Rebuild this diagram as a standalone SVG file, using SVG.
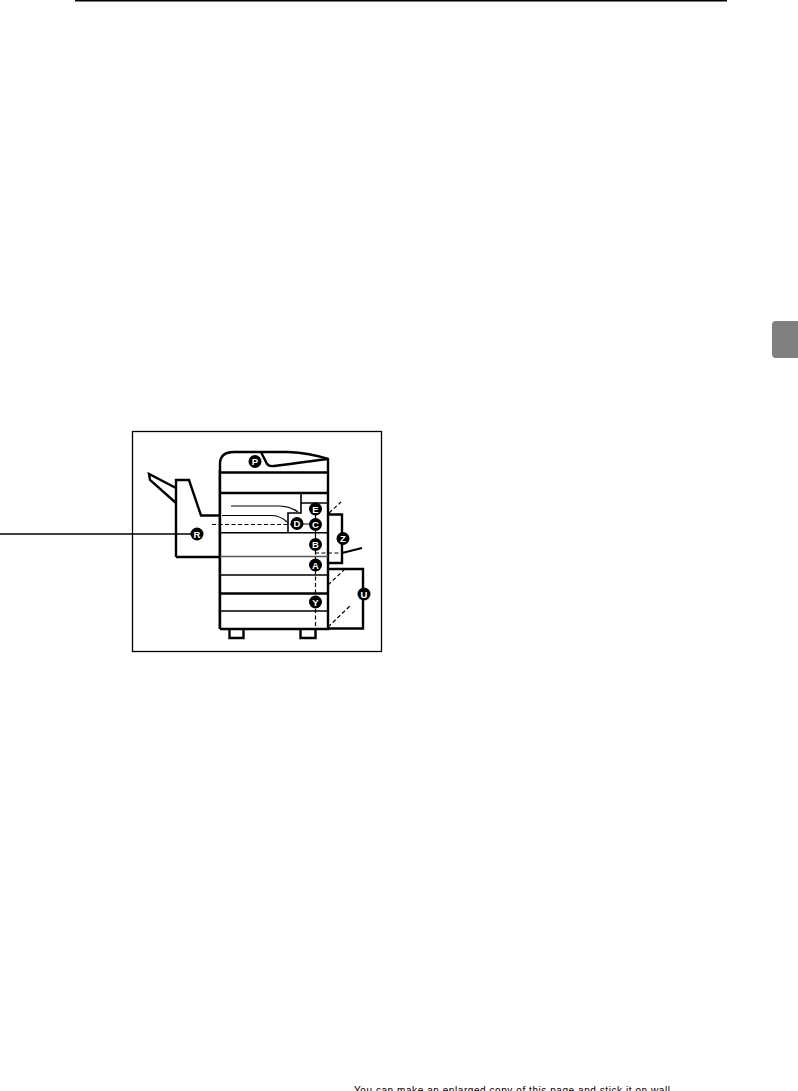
<svg xmlns="http://www.w3.org/2000/svg" width="798" height="1091" viewBox="0 0 798 1091">
<style>
.h{fill:none;stroke:#000;stroke-width:2.4}
.m{fill:none;stroke:#000;stroke-width:1.6}
.t{fill:none;stroke:#000;stroke-width:1.2}
.d{fill:none;stroke:#000;stroke-width:1.2;stroke-dasharray:4 2.5}
.c{fill:#000}
.l{font-family:"Liberation Sans",Arial,sans-serif;font-size:9.500px;font-weight:700;fill:#fff;text-anchor:middle}
</style>
<rect width="798" height="1091" fill="#fff"/>
<line x1="75" y1="0.500" x2="727" y2="0.500" stroke="#000" stroke-width="1.800"/>
<path d="M772 325a4 4 0 0 1 4-4H798V358H776a4 4 0 0 1-4-4Z" fill="#808080"/>
<rect x="132.500" y="431.500" width="249" height="220" fill="none" stroke="#000" stroke-width="1.300"/>
<g id="machine">
<line x1="218.500" y1="470" x2="218.500" y2="629" stroke="#aaa" stroke-width="1"/>
<path class="h" d="M220 629V464Q220 452 234 452H288Q310 453 328 459V629H220"/>
<path class="h" d="M220 472.500H328M220 493H328"/>
<path class="h" d="M229.500 629V638H243.500V629M300.500 629V638H315.500V629"/>
<path class="m" d="M301 494V513H288V532M301 503H328M220 532.700H328"/>
<path class="t" d="M231 506H280Q292 507 298 512M222 515.500H272Q281 516 287 522"/>
<line x1="220" y1="556.500" x2="328" y2="556.500" stroke="#555" stroke-width="1.600"/>
<path class="m" d="M220 575H328M220 611H328"/>
<path class="h" d="M220 593.500H328"/>
<path class="h" d="M261 452L266 462Q268 467 274 466L290 464Q312 461 328 459"/>
</g>
<g id="finisher">
<path class="h" d="M176 557V480H189L201 515.500H220M176 557H220M176 488L149 474L150 480L176 503"/>
</g>
<g id="options">
<path class="h" d="M328 569H363V628.500H328"/>
<path class="h" d="M328 514.500H342V563H328"/>
<line x1="342" y1="553" x2="362" y2="548" stroke="#000" stroke-width="2"/>
</g>
<g id="connectors">
<line x1="0" y1="534" x2="192" y2="534" class="m"/>
<path class="d" d="M212 524.500H292"/>
<path class="d" d="M315.500 544V638"/>
<path class="d" d="M315 553H342"/>
<path class="d" d="M329 513L341 502M328 585L344 570M328 627L350 606"/>
<path class="t" d="M315.500 509V544M297 524H315"/>
</g>
<g id="node-P"><circle class="c" cx="255" cy="461.500" r="6.500"/><text class="l" x="255" y="465">P</text></g>
<g id="node-R"><circle class="c" cx="197" cy="534" r="6.500"/><text class="l" x="197" y="537.500">R</text></g>
<g id="node-E"><circle class="c" cx="315.500" cy="509" r="6.500"/><text class="l" x="315.500" y="512.500">E</text></g>
<g id="node-D"><circle class="c" cx="297" cy="523.500" r="6.500"/><text class="l" x="297" y="527">D</text></g>
<g id="node-C"><circle class="c" cx="315.500" cy="524.500" r="6.500"/><text class="l" x="315.500" y="528">C</text></g>
<g id="node-B"><circle class="c" cx="315.500" cy="544.500" r="6.500"/><text class="l" x="315.500" y="548">B</text></g>
<g id="node-A"><circle class="c" cx="315.500" cy="565" r="6.500"/><text class="l" x="315.500" y="568.500">A</text></g>
<g id="node-Y"><circle class="c" cx="315.500" cy="602" r="6.500"/><text class="l" x="315.500" y="605.500">Y</text></g>
<g id="node-Z"><circle class="c" cx="343" cy="538.500" r="6.500"/><text class="l" x="343" y="542">Z</text></g>
<g id="node-U"><circle class="c" cx="364" cy="594" r="6.500"/><text class="l" x="364" y="597.500">U</text></g>
<text x="354" y="1093.500" font-family="Liberation Sans,Arial,sans-serif" font-size="10" fill="#000" textLength="316" lengthAdjust="spacing">You can make an enlarged copy of this page and stick it on wall</text>
</svg>
